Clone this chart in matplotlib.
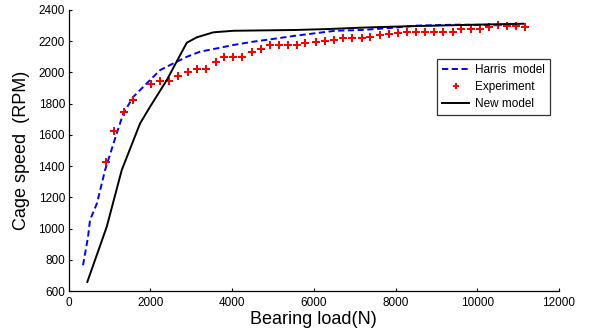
import matplotlib
matplotlib.use("Agg")
import matplotlib.pyplot as plt

plt.rcParams['font.family'] = ['Liberation Sans', 'DejaVu Sans']

# Harris model (blue dashed)
harris_x = [355, 477, 526, 698, 894, 1180, 1342, 1587, 1914, 2240, 2565, 2893, 3219,
            3627, 4035, 4517, 5097, 5545, 6034, 6524, 7178, 7993, 8525, 9505, 10315, 11125]
harris_y = [765, 945, 1054, 1163, 1374, 1610, 1738, 1844, 1930, 2015, 2058, 2100, 2133,
            2154, 2176, 2197, 2218, 2235, 2251, 2267, 2272, 2287, 2300, 2306, 2304, 2295]

# New model (black solid)
new_x = [460, 935, 1302, 1750, 1995, 2404, 2893, 3138, 3545, 4035, 5545, 6340, 7178,
         7911, 8482, 10315, 11125]
new_y = [658, 1011, 1374, 1673, 1780, 1951, 2190, 2225, 2257, 2267, 2272, 2278, 2287,
         2293, 2297, 2308, 2312]

# Experiment (red markers)
exp_x = [911, 1121, 1359, 1586, 2020, 2247, 2460, 2688, 2918, 3138, 3359, 3604, 3814,
         4035, 4240, 4485, 4713, 4933, 5153, 5366, 5587, 5790, 6052, 6279, 6500, 6727,
         6948, 7178, 7381, 7609, 7829, 8059, 8280, 8500, 8710, 8931, 9161, 9396, 9608,
         9836, 10066, 10277, 10507, 10727, 10948, 11175]
exp_y = [1428, 1624, 1748, 1823, 1924, 1947, 1947, 1979, 2001, 2022, 2022, 2069, 2101,
         2101, 2101, 2129, 2148, 2176, 2176, 2176, 2176, 2186, 2197, 2201, 2208, 2223,
         2223, 2223, 2229, 2240, 2244, 2251, 2257, 2259, 2259, 2259, 2259, 2259, 2276,
         2276, 2276, 2293, 2304, 2297, 2297, 2293]

x_ticks = [0, 2000, 4000, 6000, 8000, 10000, 12000]
y_ticks = [600, 800, 1000, 1200, 1400, 1600, 1800, 2000, 2200, 2400]

fig = plt.figure(figsize=(5.9, 3.36), dpi=100)
ax = fig.add_axes([68.5 / 590, (336 - 291) / 336, (559 - 68.5) / 590, (291 - 10) / 336])

ax.plot(harris_x, harris_y, color='#0000ff', linestyle=(0, (3.2, 1.8)), linewidth=1.4,
        label='Harris  model')
ax.plot(exp_x, exp_y, linestyle='none', marker='P', markersize=6, color='#ff0000',
        markeredgewidth=0, label='Experiment')
ax.plot(new_x, new_y, color='black', linewidth=1.4, label='New model')

ax.set_xlim(0, 12000)
ax.set_ylim(600, 2400)
ax.set_xticks(x_ticks)
ax.set_yticks(y_ticks)
ax.tick_params(direction='in', length=2.5, width=0.8, labelsize=8.5)
ax.tick_params(axis='y', pad=2.5)
ax.tick_params(axis='x', pad=4)
for s in ['top', 'right']:
    ax.spines[s].set_visible(False)
for s in ['left', 'bottom']:
    ax.spines[s].set_linewidth(0.9)

ax.set_xlabel('Bearing load(N)', fontsize=13, labelpad=2)
ax.set_ylabel('Cage speed  (RPM)', fontsize=13, labelpad=6)

leg = ax.legend(loc='upper left', bbox_to_anchor=(0.751, 0.826), borderaxespad=0,
                fancybox=False, edgecolor='#333333', framealpha=1, fontsize=8.5,
                handlelength=2.3, handletextpad=0.5, labelspacing=0.4, borderpad=0.45,
                markerscale=0.7)
leg.get_frame().set_linewidth(0.9)

fig.savefig('out.png', dpi=100, facecolor='white')
